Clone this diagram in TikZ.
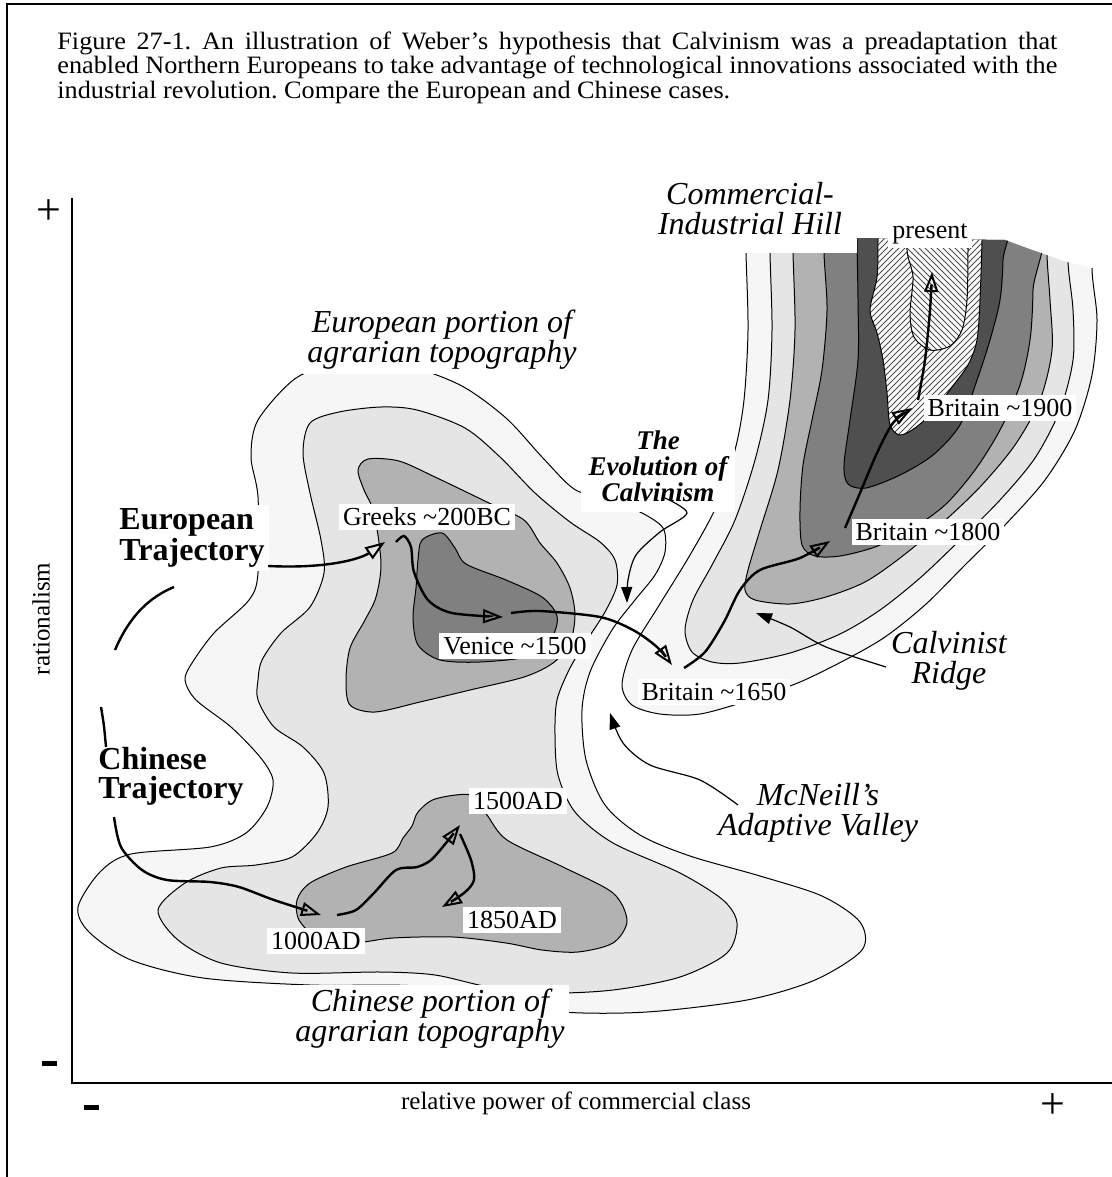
\documentclass[tikz,border=0pt]{standalone}
\usepackage{fontspec}
\setmainfont{Liberation Serif}
\newfontfamily\capfont[Ligatures=TeX,FakeStretch=1.05]{Liberation Serif}
\usetikzlibrary{arrows.meta,patterns}

\definecolor{lvA}{gray}{0.965}
\definecolor{lvB}{gray}{0.90}
\definecolor{lvC}{gray}{0.70}
\definecolor{lvD}{gray}{0.50}
\definecolor{lvE}{gray}{0.31}

\begin{document}
\frenchspacing
\begin{tikzpicture}[x=0.5pt,y=-0.5pt,
    contour/.style={draw=black,line width=0.5pt},
    hatch/.style={contour,preaction={fill=white},pattern color=black!70},
    lab/.style={fill=white,inner sep=2pt,font=\fontsize{13}{13}\selectfont},
    ilab/.style={fill=white,align=center,inner sep=2pt,font=\fontsize{16}{15}\selectfont\itshape},
    blab/.style={fill=white,align=left,inner sep=2pt,font=\fontsize{16}{14.5}\selectfont\bfseries},
    axlab/.style={font=\fontsize{12.5}{12.5}\selectfont},
    sign/.style={font=\fontsize{22}{22}\selectfont,inner sep=0pt},
    traj/.style={line width=1.2pt,-{Triangle[open,length=10pt,width=7pt,line width=1pt]}},
    ptr/.style={line width=0.6pt,-{Triangle[length=8pt,width=5.5pt]}}]
  \useasboundingbox (0,0) rectangle (1112,1177);

  % frame and axes
  \draw[line width=1pt] (7,1177) -- (7,4) -- (1112,4);
  \draw[line width=1pt] (72,198) -- (72,1083) -- (1112,1083);

  \node[anchor=north west,inner sep=0pt,text width=500pt,align=justify,
        font=\capfont\fontsize{12.5}{11}\selectfont] (capt) at (57,31)
    {Figure 27-1. An illustration of Weber's hypothesis that Calvinism was a preadaptation that\linebreak
     enabled Northern Europeans to take advantage of technological innovations associated with the\linebreak
     industrial revolution. Compare the European and Chinese cases.};

  \node[sign] (ymax) at (49,212) {+};
  \node[inner sep=0pt] (ymin) at (49,1063) {\rule{7.5pt}{2.5pt}};
  \node[inner sep=0pt] (xmin) at (91,1107) {\rule{7.5pt}{2.5pt}};
  \node[sign] (xmax) at (1053,1106) {+};
  \node[axlab,rotate=90] (ylab) at (41,619) {rationalism};
  \node[axlab] (xlab) at (576,1103) {relative power of commercial class};

  % agrarian topography
  \path[contour,fill=lvA] plot[smooth cycle] coordinates {
    (296,378) (340,364) (400,364) (460,385) (506,418) (542,457) (574,489)
    (605,499) (640,512) (663,528) (665,552) (655,575) (635,600) (612,630)
    (590,672) (582,710) (586,760) (605,805) (640,835) (690,856) (760,876)
    (822,896) (860,922) (862,950) (815,980) (747,1000) (647,1012) (563,1012)
    (500,1000) (417,986) (310,985) (203,978) (131,960) (89,932) (78,907)
    (100,872) (131,854) (210,847) (246,833) (267,807) (273,780) (260,757)
    (231,727) (196,700) (185,680) (192,663) (214,633) (249,600) (258,573)
    (258,497) (251,457) (258,420)};
  \path[contour,fill=lvB] plot[smooth cycle] coordinates {
    (310,423) (339,412) (381,407) (417,410) (465,428) (500,457) (535,493)
    (570,522) (600,542) (615,560) (617,585) (605,612) (587,640) (570,668)
    (557,700) (555,735) (558,775) (575,812) (613,843) (680,873) (723,900)
    (737,923) (727,953) (680,977) (613,990) (547,993) (489,987) (435,975)
    (381,972) (292,973) (221,963) (178,940) (158,910) (185,883) (221,868)
    (256,865) (292,857) (317,833) (328,807) (324,773) (303,747) (274,727)
    (258,700) (258,680) (262,660) (281,633) (310,607) (324,573) (321,540)
    (310,493) (303,453)};
  \path[contour,fill=lvC] plot[smooth cycle] coordinates {
    (358,470) (368,459) (399,461) (435,477) (489,503) (524,520) (540,543)
    (557,563) (570,588) (575,615) (570,643) (553,663) (524,677) (470,690)
    (420,702) (375,712) (350,705) (346,680) (350,648) (365,620) (376,597)
    (381,563) (374,513) (364,490)};
  \path[contour,fill=lvD] plot[smooth cycle] coordinates {
    (422,540) (442,533) (455,548) (466,564) (506,580) (542,597) (557,616)
    (552,637) (530,656) (480,662) (440,660) (418,645) (413,618) (416,588)
    (418,560)};
  \path[contour,fill=lvC] plot[smooth cycle] coordinates {
    (418,812) (435,799) (471,795) (487,815) (507,840) (563,867) (613,893)
    (627,921) (613,943) (578,952) (542,950) (506,943) (453,937) (393,938)
    (353,943) (318,938) (299,920) (297,900) (310,883) (346,867) (392,853)
    (403,838) (412,826)};

  % commercial-industrial hill
  \begin{scope}
    \clip (600,253) -- (857,253) -- (857,238) -- (1005,240) -- (1032,250)
      -- (1067,262) -- (1092,268) -- (1112,268) -- (1112,800) -- (600,800) -- cycle;
    \path[contour,fill=lvA] plot[smooth cycle] coordinates {
      (745,200) (746,253) (748,330) (744,400) (735,450) (717,505) (690,555)
      (658,607) (632,650) (622,685) (632,705) (660,714) (700,714) (750,700)
      (800,682) (845,660) (885,637) (925,605) (965,565) (1005,525) (1045,480)
      (1075,430) (1092,375) (1097,320) (1092,270) (1092,200)};
    \path[contour,fill=lvB] plot[smooth cycle] coordinates {
      (770,200) (770,253) (772,330) (768,400) (755,460) (735,520) (712,565)
      (693,600) (685,630) (692,652) (712,662) (740,663) (790,653) (840,634)
      (880,610) (920,578) (960,540) (1000,500) (1035,458) (1060,410)
      (1073,360) (1073,310) (1068,262) (1068,200)};
    \path[contour,fill=lvC] plot[smooth cycle] coordinates {
      (792,200) (793,253) (795,330) (790,400) (778,470) (760,530) (748,570)
      (745,590) (755,600) (790,604) (826,597) (865,582) (900,558) (940,525)
      (980,487) (1015,445) (1040,400) (1052,350) (1050,300) (1047,255)
      (1047,200)};
    \path[contour,fill=lvD] plot[smooth cycle] coordinates {
      (824,200) (824,253) (827,310) (822,370) (812,420) (803,465) (800,510)
      (802,545) (815,556) (840,556) (875,547) (910,530) (945,505) (975,470)
      (1000,430) (1020,385) (1030,340) (1033,290) (1033,200)};
    \path[contour,fill=lvE] plot[smooth cycle] coordinates {
      (857,200) (857,240) (858,300) (858,360) (850,420) (844,465) (848,484)
      (866,488) (900,475) (933,455) (960,425) (977,380) (990,340) (1000,300)
      (1003,260) (1003,200)};
    \path[hatch,pattern=north east lines] plot[smooth cycle] coordinates {
      (878,200) (878,240) (877,277) (870,310) (877,333) (883,360) (887,393)
      (890,425) (900,435) (915,428) (935,410) (952,387) (968,365) (977,340)
      (980,300) (982,240) (982,200)};
    \path[hatch,pattern=north west lines] plot[smooth cycle] coordinates {
      (907,200) (907,250) (913,277) (910,313) (914,337) (930,350) (950,346)
      (962,330) (967,300) (968,250) (968,200)};
  \end{scope}

  % region names
  \node[ilab] (euport) at (442,340) {European portion of\\agrarian topography};
  \node[ilab] (chport) at (430,1019) {Chinese portion of\\agrarian topography};
  \node[ilab,fill=none] (hill) at (750,209) {Commercial-\\Industrial Hill};
  \node[ilab,fill=none] (ridge) at (949,661) {Calvinist\\Ridge};
  \node[ilab,fill=none] (valley) at (818,813) {McNeill's\\Adaptive Valley};
  \node[fill=white,align=center,inner sep=0pt,minimum width=77pt,minimum height=46pt,
        font=\fontsize{13.5}{13}\selectfont\bfseries\itshape] (calv) at (658,466)
    {The\\Evolution of\\Calvinism};
  \node[blab] (eutraj) at (192,538) {European\\Trajectory};
  \node[blab,anchor=west] (chtraj) at (94,776) {Chinese\\Trajectory};

  % points in time
  \node[lab] (greeks) at (427,517) {Greeks \textasciitilde200BC};
  \node[lab] (venice) at (515,646) {Venice \textasciitilde1500};
  \node[lab] (brit16) at (714,692) {Britain \textasciitilde1650};
  \node[lab] (brit18) at (928,532) {Britain \textasciitilde1800};
  \node[lab] (brit19) at (1000,408) {Britain \textasciitilde1900};
  \node[lab] (present) at (930,234) {present};
  \node[lab] (ad1000) at (316,941) {1000AD};
  \node[lab] (ad1500) at (518,801) {1500AD};
  \node[lab] (ad1850) at (512,920) {1850AD};

  % trajectories
  \coordinate (eua) at (115,650);
  \coordinate (eub) at (174,587);
  \coordinate (eu0) at (268,566);
  \coordinate (gr1) at (385,542);
  \coordinate (gr2) at (396,542);
  \coordinate (ve1) at (503,617);
  \coordinate (ve2) at (511,613);
  \coordinate (b16a) at (672,665);
  \coordinate (b16b) at (684,668);
  \coordinate (b18a) at (830,541);
  \coordinate (b18b) at (845,528);
  \coordinate (b19a) at (912,408);
  \coordinate (b19b) at (918,400);
  \coordinate (now) at (932,272);
  \coordinate (cha) at (101,707);
  \coordinate (chb) at (106,747);
  \coordinate (ch0) at (114,817);
  \coordinate (c10a) at (321,915);
  \coordinate (c10b) at (337,915);
  \coordinate (c15a) at (460,825);
  \coordinate (c15b) at (460,834);
  \coordinate (c18a) at (442,907);

  \draw[line width=1.2pt] (eua) .. controls (130,615) and (150,597) .. (eub);
  \draw[traj] (eu0) .. controls (330,569) and (362,558) .. (gr1);
  \draw[traj] plot[smooth] coordinates {(gr2) (404,536) (411,547) (414,572) (428,600) (452,613) (ve1)};
  \draw[traj] plot[smooth] coordinates {(ve2) (540,611) (600,617) (633,630) (657,647) (b16a)};
  \draw[traj] plot[smooth] coordinates {(b16b) (705,652) (724,622) (740,590) (760,570) (800,558) (b18a)};
  \draw[traj] plot[smooth] coordinates {(b18b) (860,493) (877,453) (893,423) (b19a)};
  \draw[traj] plot[smooth] coordinates {(b19b) (925,360) (930,310) (now)};
  \draw[line width=1.2pt] (cha) .. controls (104,725) .. (chb);
  \draw[traj] plot[smooth] coordinates {(ch0) (121,847) (142,870) (167,880) (210,882) (239,887) (274,900) (c10a)};
  \draw[traj] plot[smooth] coordinates {(c10b) (356,910) (374,893) (396,870) (417,867) (431,860) (446,843) (c15a)};
  \draw[traj] plot[smooth] coordinates {(c15b) (471,860) (474,880) (464,893) (c18a)};

  % pointers to features
  \coordinate (calvsrc) at (665,498);
  \coordinate (calvtip) at (627,603);
  \coordinate (ridgesrc) at (886,667);
  \coordinate (ridgetip) at (756,613);
  \coordinate (valsrc) at (738,805);
  \coordinate (valtip) at (610,713);
  \draw[ptr] plot[smooth] coordinates {(calvsrc) (687,513) (660,532) (636,555) (628,580) (calvtip)};
  \draw[ptr] plot[smooth] coordinates {(ridgesrc) (826,647) (790,627) (ridgetip)};
  \draw[ptr] plot[smooth] coordinates {(valsrc) (700,780) (650,765) (623,743) (valtip)};
\end{tikzpicture}
\end{document}
